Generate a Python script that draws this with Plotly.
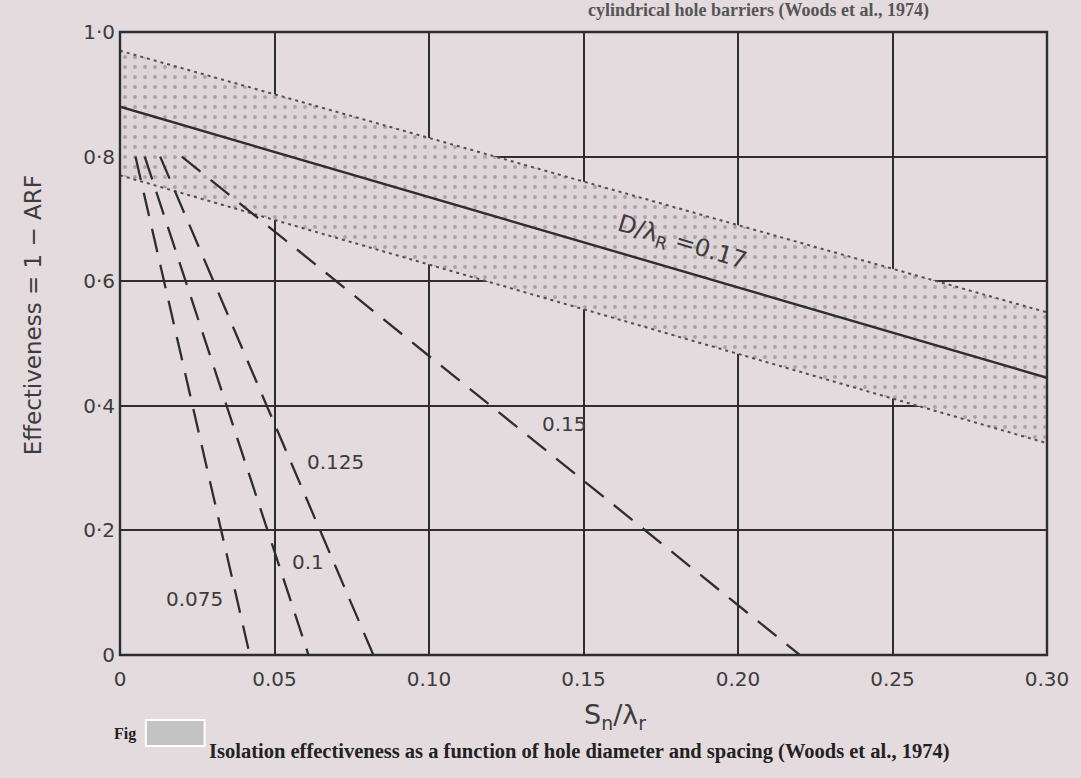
import plotly.graph_objects as go

# ---------------- data ----------------
band_x = [0.0, 0.30]
band_upper = [0.97, 0.55]
band_lower = [0.77, 0.34]
mean_line = [0.88, 0.445]          # D/lambda_R = 0.17 (solid)

ratio_labels = ["0.075", "0.1", "0.125", "0.15"]
start_x = [0.005, 0.008, 0.013, 0.020]
start_y = [0.8, 0.8, 0.8, 0.8]
end_x = [0.042, 0.061, 0.082, 0.220]
end_y = [0.0, 0.0, 0.0, 0.0]

label_x = [0.024, 0.055, 0.060, 0.136]
label_y = [0.09, 0.15, 0.31, 0.37]

x_ticks = [0, 0.05, 0.10, 0.15, 0.20, 0.25, 0.30]
x_ticktext = ["0", "0.05", "0.10", "0.15", "0.20", "0.25", "0.30"]
y_ticks = [0, 0.2, 0.4, 0.6, 0.8, 1.0]
y_ticktext = ["0", "0·2", "0·4", "0·6", "0·8", "1·0"]

# ---------------- layout geometry ----------------
W, H = 1081, 778
L, R, T, B = 120, 30, 32, 123
PW, PH = W - L - R, H - T - B

def px(xp):
    return (xp - L) / PW

def py(yp):
    return (H - B - yp) / PH

INK = "#2e2e2e"
TXT = "#3c3c3c"
BG = "#e3dbde"

fig = go.Figure()

# shaded band
fig.add_trace(go.Scatter(x=band_x, y=band_lower, mode="lines",
                         line=dict(color="#505050", width=2, dash="3px,4px"),
                         hoverinfo="skip", showlegend=False))
fig.add_trace(go.Scatter(x=band_x, y=band_upper, mode="lines",
                         line=dict(color="#505050", width=2, dash="3px,4px"),
                         fill="tonexty", fillcolor="rgba(0,0,0,0)",
                         fillpattern=dict(shape=".", fgcolor="#707070", bgcolor="#ddd5d8",
                                          size=10, solidity=0.12),
                         hoverinfo="skip", showlegend=False))
# solid mean line
fig.add_trace(go.Scatter(x=band_x, y=mean_line, mode="lines",
                         line=dict(color=INK, width=2.4),
                         showlegend=False))

# dashed lines
for i, lab in enumerate(ratio_labels):
    fig.add_trace(go.Scatter(x=[start_x[i], end_x[i]], y=[start_y[i], end_y[i]],
                             mode="lines", line=dict(color=INK, width=2.3, dash="24px,13px"),
                             name=lab, showlegend=False))

LAB_FONT = dict(size=20, color=TXT, family="DejaVu Sans")
anns = []
anns.append(dict(x=label_x[0], y=label_y[0], text="0.075", showarrow=False,
                 xanchor="center", yanchor="middle", font=LAB_FONT))
anns.append(dict(x=label_x[1], y=label_y[1], text="0.1", showarrow=False,
                 xanchor="left", yanchor="middle", font=LAB_FONT))
anns.append(dict(x=label_x[2], y=label_y[2], text="0.125", showarrow=False,
                 xanchor="left", yanchor="middle", font=LAB_FONT))
anns.append(dict(x=label_x[3], y=label_y[3], text="0.15", showarrow=False,
                 xanchor="left", yanchor="middle", font=LAB_FONT))
anns.append(dict(x=0.182, y=0.66, text="D/λ<sub>R</sub> =0.17", showarrow=False,
                 textangle=17, xanchor="center", yanchor="middle",
                 font=dict(size=24, color=TXT, family="DejaVu Sans")))

# axis titles
anns.append(dict(xref="paper", yref="paper", x=px(33), y=py(315),
                 xanchor="center", yanchor="middle",
                 text="Effectiveness = 1 − ARF", textangle=-90, showarrow=False,
                 font=dict(size=23, color=TXT, family="DejaVu Sans")))
anns.append(dict(xref="paper", yref="paper", x=px(617), y=py(716),
                 xanchor="center", yanchor="middle",
                 text="S<sub>n</sub>/λ<sub>r</sub>", showarrow=False,
                 font=dict(size=27, color=TXT, family="DejaVu Sans")))

# caption
anns.append(dict(xref="paper", yref="paper", x=px(112), y=py(734),
                 text="<b>Fig</b>", showarrow=False, xanchor="left", yanchor="middle",
                 font=dict(size=16, color="#222", family="Liberation Serif")))
anns.append(dict(xref="paper", yref="paper", x=px(207), y=py(751),
                 text="<b>Isolation effectiveness as a function of hole diameter and spacing (Woods et al., 1974)</b>",
                 showarrow=False, xanchor="left", yanchor="middle",
                 font=dict(size=20.5, color="#222", family="Liberation Serif")))
# top (cut) caption
anns.append(dict(xref="paper", yref="paper", x=px(935), y=py(11),
                 text="<b>cylindrical hole barriers (Woods et al., 1974)</b>",
                 showarrow=False, xanchor="right", yanchor="middle",
                 font=dict(size=18, color="#555", family="Liberation Serif")))

shapes = [
    dict(type="rect", xref="paper", yref="paper",
         x0=px(146), x1=px(205), y0=py(746), y1=py(720),
         fillcolor="#c2c2c2", line=dict(color="white", width=2), layer="above"),
    dict(type="rect", xref="paper", yref="paper", x0=0, x1=1, y0=0, y1=1,
         line=dict(color=INK, width=2.4), fillcolor="rgba(0,0,0,0)", layer="above"),
]

fig.update_layout(
    width=W, height=H,
    margin=dict(l=L, r=R, t=T, b=B),
    paper_bgcolor=BG, plot_bgcolor=BG,
    annotations=anns, shapes=shapes,
    showlegend=False,
    font=dict(family="DejaVu Sans", color=TXT, size=20),
)
fig.update_xaxes(range=[0, 0.30], tickvals=x_ticks, ticktext=x_ticktext,
                 showgrid=True, gridcolor=INK, gridwidth=1.6, zeroline=False,
                 showline=False, ticks="", ticklabelstandoff=10,
                 tickfont=dict(size=20, color=TXT))
fig.update_yaxes(range=[0, 1.0], tickvals=y_ticks, ticktext=y_ticktext,
                 showgrid=True, gridcolor=INK, gridwidth=1.6, zeroline=False,
                 showline=False, ticks="", ticklabelstandoff=4,
                 tickfont=dict(size=20, color=TXT))

fig.write_html("out.html", config={"displayModeBar": False},
               post_script="document.body.style.margin='0';document.body.style.overflow='hidden';")
